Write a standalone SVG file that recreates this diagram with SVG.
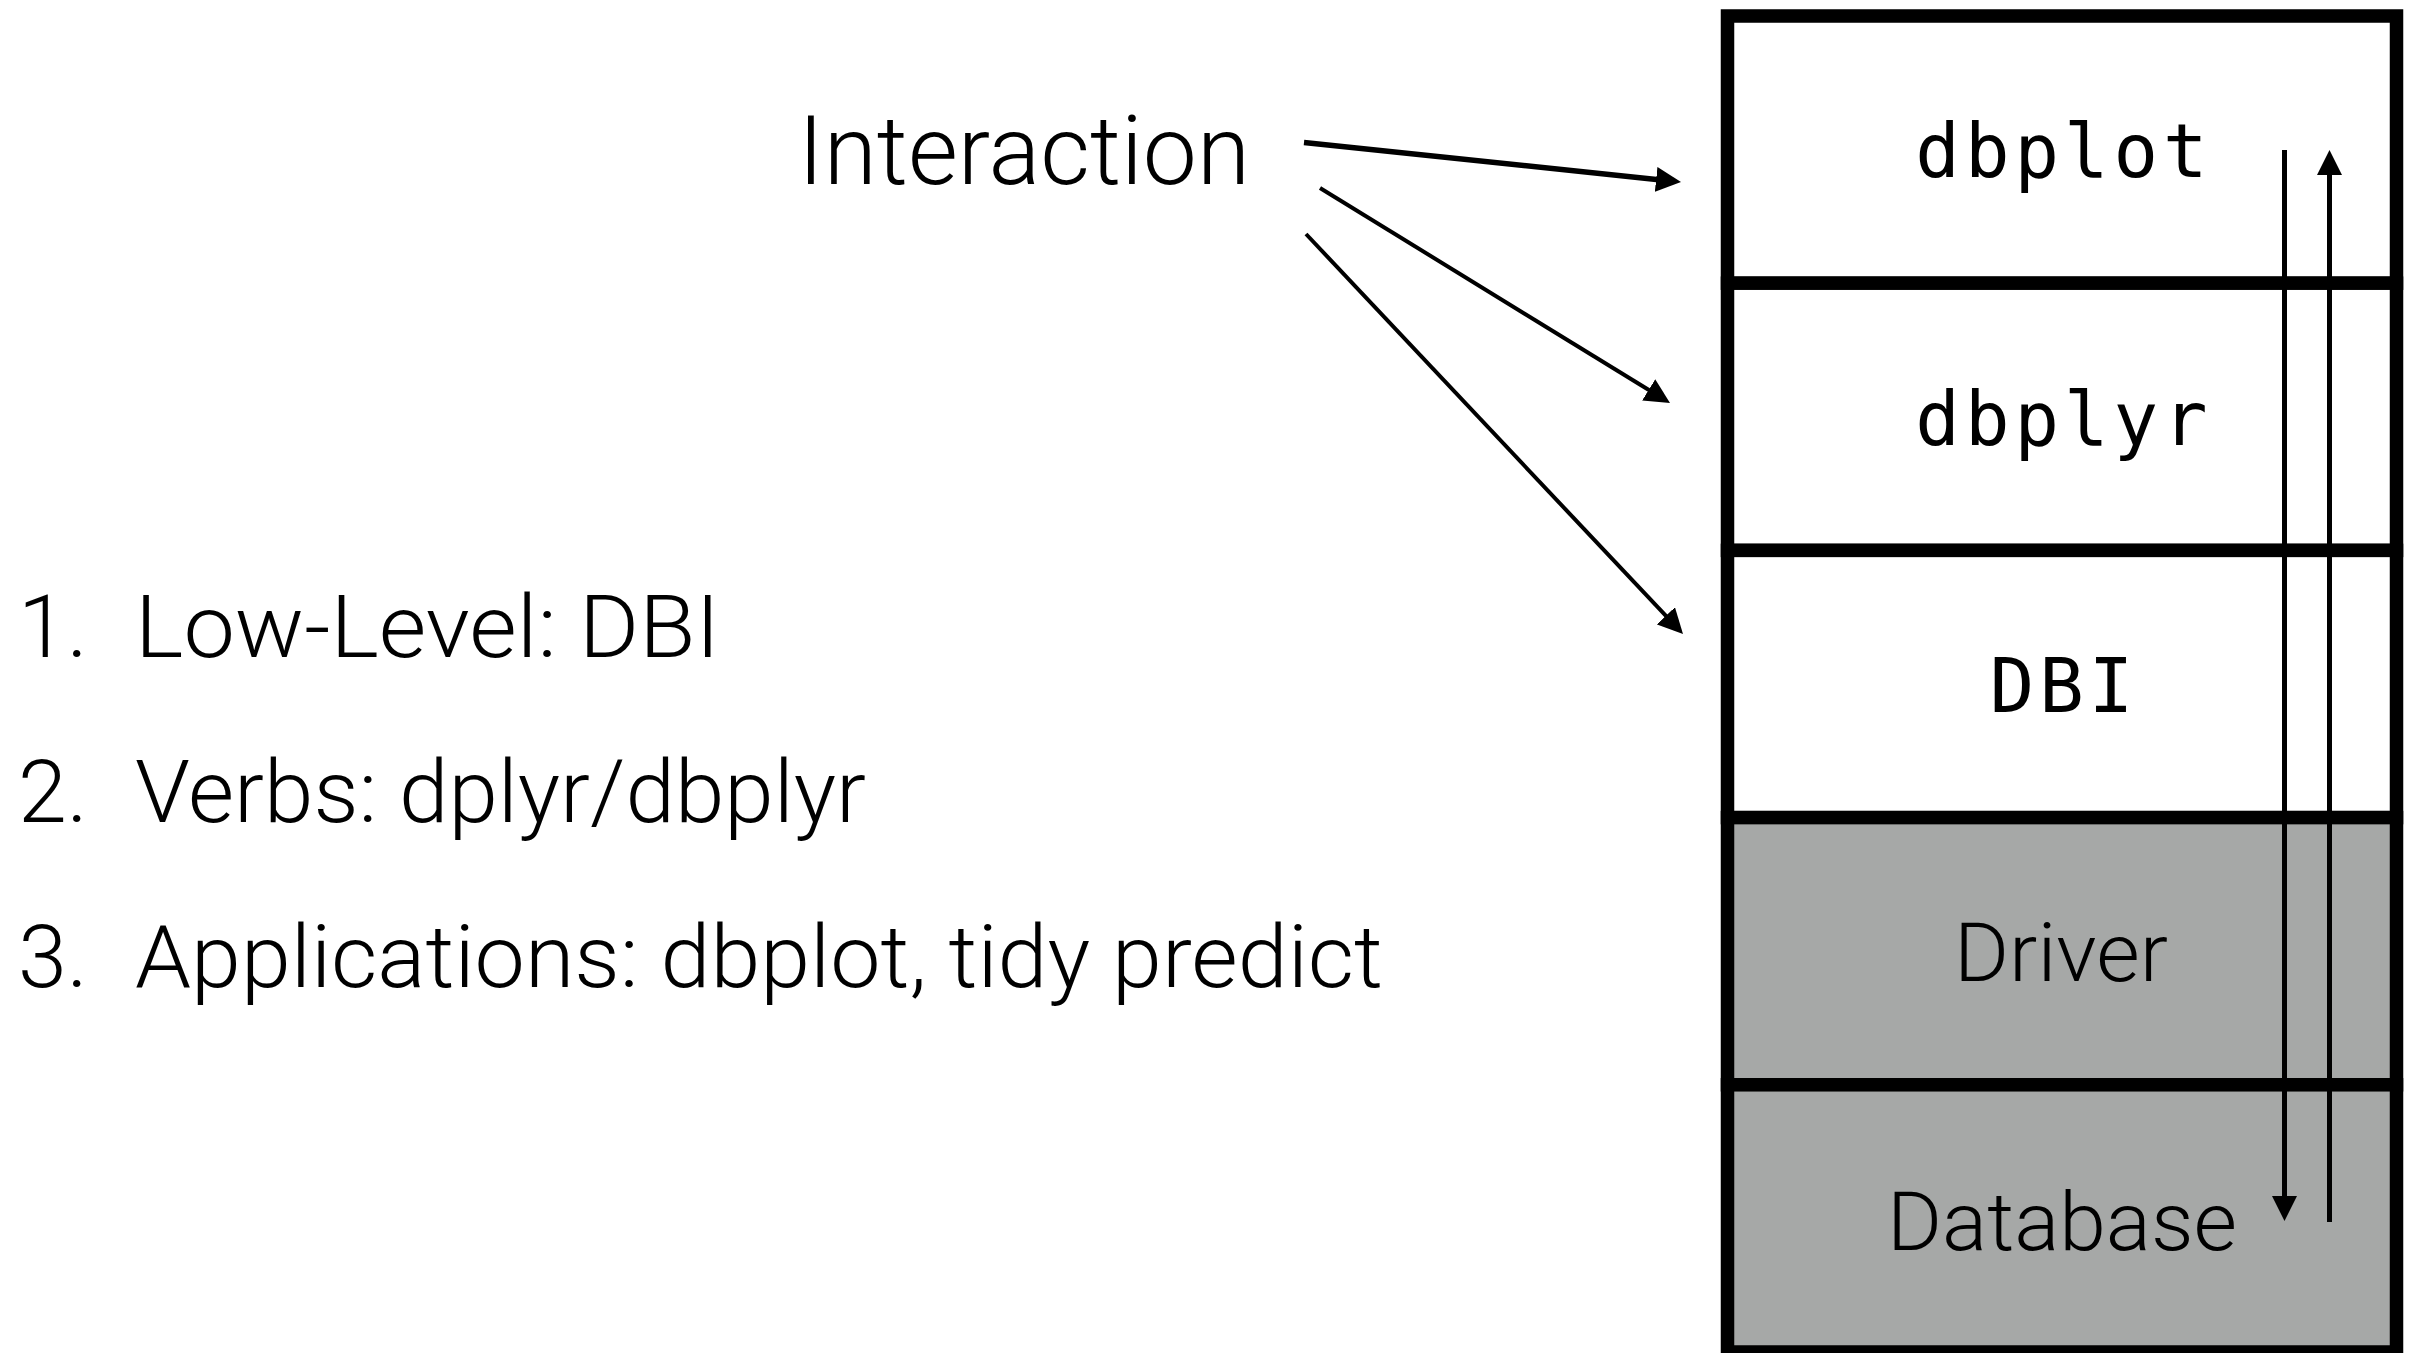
<svg xmlns="http://www.w3.org/2000/svg" width="2416" height="1353" viewBox="0 0 2416 1353">
  <style>
    .sans { font-family: Roboto, "Liberation Sans", Arial, sans-serif; font-weight: 300; fill: #000; }
    .mono { font-family: "DejaVu Sans Mono", Menlo, monospace; font-size: 74px; letter-spacing: 5px; fill: #000; text-anchor: middle; }
    .layer { stroke: #000; stroke-width: 13.5; }
    .light { fill: #ffffff; }
    .dark { fill: #a6a8a7; }
    .conn { stroke: #000; fill: none; }
  </style>
  <defs>
    <marker id="head" markerUnits="userSpaceOnUse" markerWidth="25" markerHeight="25" refX="5" refY="12.5" orient="auto" viewBox="0 0 25 25">
      <path d="M0,0 L25,12.5 L0,25 Z" fill="#000"/>
    </marker>
  </defs>

  <rect width="2416" height="1353" fill="#ffffff"/>

  <!-- numbered list on the left -->
  <g id="list" class="sans" font-size="88">
    <text x="18" y="657">1.</text><text x="135" y="657" textLength="585" lengthAdjust="spacingAndGlyphs">Low-Level: DBI</text>
    <text x="18" y="822">2.</text><text x="135" y="822" textLength="731" lengthAdjust="spacingAndGlyphs">Verbs: dplyr/dbplyr</text>
    <text x="18" y="987">3.</text><text x="135" y="987" textLength="1248" lengthAdjust="spacingAndGlyphs">Applications: dbplot, tidy predict</text>
  </g>

  <g id="interaction">
    <text class="sans" x="798" y="184" font-size="97" textLength="452" lengthAdjust="spacingAndGlyphs">Interaction</text>
  </g>

  <!-- stack of layers -->
  <g id="dbplot">
    <rect class="layer light" x="1727.5" y="16" width="669" height="267.2"/>
    <text class="mono" x="2064" y="177">dbplot</text>
  </g>
  <g id="dbplyr">
    <rect class="layer light" x="1727.5" y="283.2" width="669" height="267.2"/>
    <text class="mono" x="2064" y="445">dbplyr</text>
  </g>
  <g id="dbi">
    <rect class="layer light" x="1727.5" y="550.4" width="669" height="267.2"/>
    <text class="mono" x="2064" y="712">DBI</text>
  </g>
  <g id="driver">
    <rect class="layer dark" x="1727.5" y="817.6" width="669" height="267.2"/>
    <text class="sans" x="2061" y="981" font-size="81" text-anchor="middle" textLength="214" lengthAdjust="spacingAndGlyphs">Driver</text>
  </g>
  <g id="database">
    <rect class="layer dark" x="1727.5" y="1084.8" width="669" height="267.2"/>
    <text class="sans" x="2062" y="1250" font-size="81" text-anchor="middle" textLength="350" lengthAdjust="spacingAndGlyphs">Database</text>
  </g>

  <!-- connectors -->
  <g id="connectors" class="conn">
    <path d="M1304,142.5 L1661.1,179.9" stroke-width="5.5" marker-end="url(#head)"/>
    <path d="M1320,188 L1652.96,392.53" stroke-width="4" marker-end="url(#head)"/>
    <path d="M1306,234 L1669.28,619.45" stroke-width="4" marker-end="url(#head)"/>
    <path d="M2284.5,150 L2284.5,1201" stroke-width="5" marker-end="url(#head)"/>
    <path d="M2329.5,1222 L2329.5,170" stroke-width="5" marker-end="url(#head)"/>
  </g>
</svg>
